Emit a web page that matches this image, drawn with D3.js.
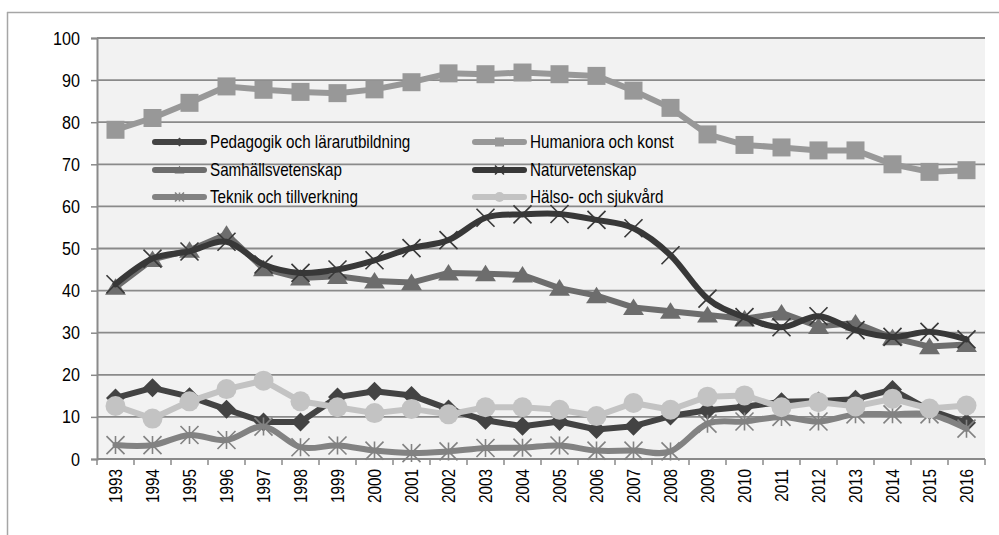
<!DOCTYPE html>
<html>
<head>
<meta charset="utf-8">
<script src="https://cdn.jsdelivr.net/npm/d3@7"></script>
<style>
  body { margin: 0; background: #ffffff; }
  svg text { font-family: "Liberation Sans", Arial, sans-serif; fill: #000; }
</style>
</head>
<body>
<script>
var years = ["1993","1994","1995","1996","1997","1998","1999","2000","2001","2002","2003","2004",
             "2005","2006","2007","2008","2009","2010","2011","2012","2013","2014","2015","2016"];
var yTicks = [0, 10, 20, 30, 40, 50, 60, 70, 80, 90, 100];

var pedagogik = [14.5, 16.9, 14.8, 11.8, 8.8, 8.8, 14.7, 16.1, 15.1, 11.9, 9.2, 7.8, 8.9, 7.0, 7.8, 10.2, 11.6, 12.4, 13.6, 13.8, 14.2, 16.5, 11.6, 8.6];
var humaniora = [78.2, 81.0, 84.6, 88.5, 87.7, 87.2, 86.9, 87.8, 89.5, 91.6, 91.4, 91.8, 91.4, 91.0, 87.5, 83.4, 77.1, 74.6, 74.0, 73.3, 73.3, 70.0, 68.2, 68.6];
var samhalls = [40.8, 47.4, 49.6, 53.4, 45.2, 43.0, 43.4, 42.3, 41.9, 44.2, 44.0, 43.7, 40.6, 38.8, 36.0, 35.1, 34.2, 33.3, 34.7, 31.5, 32.3, 28.8, 26.7, 27.2];
var naturvet = [41.5, 47.6, 49.3, 51.6, 46.2, 44.2, 45.0, 47.2, 50.1, 52.0, 57.3, 58.1, 58.2, 56.8, 54.8, 48.4, 38.1, 33.7, 31.3, 33.9, 30.6, 29.0, 30.2, 28.4];
var teknik = [3.3, 3.3, 5.7, 4.5, 7.7, 2.8, 3.2, 2.0, 1.4, 1.8, 2.6, 2.7, 3.2, 2.0, 2.0, 1.8, 8.4, 8.9, 10.0, 8.9, 10.6, 10.6, 10.6, 7.2];
var halso = [12.6, 9.6, 13.7, 16.6, 18.6, 13.7, 12.3, 10.9, 11.9, 10.6, 12.3, 12.3, 11.7, 10.2, 13.3, 11.7, 14.8, 15.1, 12.3, 13.5, 12.5, 14.3, 12.0, 12.7];

var seriesNames = ["Pedagogik och lärarutbildning", "Humaniora och konst", "Samhällsvetenskap",
                   "Naturvetenskap", "Teknik och tillverkning", "Hälso- och sjukvård"];

var serier = [
    {name: seriesNames[0], values: pedagogik, color: "#434343", marker: "diamond", smooth: false},
    {name: seriesNames[1], values: humaniora, color: "#989898", marker: "square", smooth: false},
    {name: seriesNames[2], values: samhalls, color: "#6d6d6d", marker: "triangle", smooth: false},
    {name: seriesNames[3], values: naturvet, color: "#383838", marker: "x", smooth: true},
    {name: seriesNames[4], values: teknik, color: "#828282", marker: "star", smooth: true},
    {name: seriesNames[5], values: halso, color: "#c3c3c3", marker: "circle", smooth: false}
];

var width = 999, height = 535;
var plot = {left: 97, right: 985, top: 38, bottom: 459};
var narrow = 0.85; // ingen Arial Narrow installerad, trycker ihop texten i stället

var svg = d3.select("body").append("svg")
    .attr("width", width)
    .attr("height", height);

// yttre ram (bara topp och vänster syns)
svg.append("line").attr("x1", 7).attr("x2", width).attr("y1", 12.5).attr("y2", 12.5)
    .attr("stroke", "#a6a6a6").attr("stroke-width", 1.5);
svg.append("line").attr("x1", 7.5).attr("x2", 7.5).attr("y1", 12).attr("y2", height)
    .attr("stroke", "#a6a6a6").attr("stroke-width", 1.5);

var x = d3.scaleBand().domain(years).range([plot.left, plot.right]);
var y = d3.scaleLinear().domain([0, 100]).range([plot.bottom, plot.top]);

svg.append("rect")
    .attr("x", plot.left).attr("y", plot.top)
    .attr("width", plot.right - plot.left).attr("height", plot.bottom - plot.top)
    .attr("fill", "#f2f2f2");

// rutnät
svg.append("g").selectAll("line")
    .data(yTicks.filter(function (d) { return d > 0; }))
    .enter().append("line")
    .attr("x1", plot.left).attr("x2", plot.right)
    .attr("y1", function (d) { return y(d); })
    .attr("y2", function (d) { return y(d); })
    .attr("stroke", "#8a8a8a").attr("stroke-width", 1.8);

// y-axel
var yAxis = svg.append("g")
    .attr("transform", "translate(" + plot.left + ",0)")
    .call(d3.axisLeft(y).tickValues(yTicks).tickSize(6).tickPadding(10));
yAxis.select(".domain").attr("stroke", "#8a8a8a").attr("stroke-width", 2);
yAxis.selectAll(".tick line").attr("stroke", "#8a8a8a").attr("stroke-width", 1.5);
yAxis.selectAll(".tick text")
    .attr("x", -17 / narrow)
    .attr("transform", "scale(" + narrow + ",1)")
    .attr("font-size", "19px").attr("fill", "#000")
    .style("font-family", "'Liberation Sans', Arial, sans-serif");

// x-axel med streck mellan kategorierna
var xg = svg.append("g");
xg.append("line")
    .attr("x1", plot.left).attr("x2", plot.right)
    .attr("y1", plot.bottom).attr("y2", plot.bottom)
    .attr("stroke", "#8a8a8a").attr("stroke-width", 2);
xg.selectAll(".xtick")
    .data(years.concat(["end"]))
    .enter().append("line")
    .attr("class", "xtick")
    .attr("x1", function (d, i) { return plot.left + i * x.bandwidth(); })
    .attr("x2", function (d, i) { return plot.left + i * x.bandwidth(); })
    .attr("y1", plot.bottom).attr("y2", plot.bottom + 6)
    .attr("stroke", "#8a8a8a").attr("stroke-width", 1.5);
xg.selectAll(".xlabel")
    .data(years)
    .enter().append("text")
    .attr("class", "xlabel")
    .attr("transform", function (d) {
        return "translate(" + (x(d) + x.bandwidth() / 2 + 6.5) + "," + (plot.bottom + 10) + ") rotate(-90) scale(0.85,1)";
    })
    .attr("text-anchor", "end")
    .attr("font-size", "18px")
    .text(function (d) { return d; });

function markerPath(type, s) {
    var h = s / 2;
    if (type === "diamond") return "M0," + (-h) + "L" + h + ",0L0," + h + "L" + (-h) + ",0Z";
    if (type === "square") return "M" + (-h) + "," + (-h) + "h" + s + "v" + s + "h" + (-s) + "Z";
    if (type === "triangle") return "M0," + (-h * 0.95) + "L" + (h * 1.1) + "," + (h * 0.8) + "L" + (-h * 1.1) + "," + (h * 0.8) + "Z";
    if (type === "x") return "M" + (-h) + "," + (-h) + "L" + h + "," + h + "M" + (-h) + "," + h + "L" + h + "," + (-h);
    if (type === "star") return "M" + (-h) + "," + (-h) + "L" + h + "," + h + "M" + (-h) + "," + h + "L" + h + "," + (-h) + "M0," + (-h) + "L0," + h;
    return "";
}

function drawMarker(g, s, cx, cy, size) {
    if (s.marker === "circle") {
        g.append("circle").attr("cx", cx).attr("cy", cy).attr("r", size / 2)
            .attr("fill", s.color);
    } else if (s.marker === "x" || s.marker === "star") {
        g.append("path").attr("d", markerPath(s.marker, size))
            .attr("transform", "translate(" + cx + "," + cy + ")")
            .attr("fill", "none").attr("stroke", s.color).attr("stroke-width", 1.6);
    } else {
        g.append("path").attr("d", markerPath(s.marker, size))
            .attr("transform", "translate(" + cx + "," + cy + ")")
            .attr("fill", s.color);
    }
}

var linjer = svg.append("g");
serier.forEach(function (s) {
    var line = d3.line()
        .x(function (d, i) { return x(years[i]) + x.bandwidth() / 2; })
        .y(function (d) { return y(d); })
        .curve(s.smooth ? d3.curveCardinal.tension(0) : d3.curveLinear);
    var g = linjer.append("g");
    g.append("path")
        .attr("d", line(s.values))
        .attr("fill", "none")
        .attr("stroke", s.color)
        .attr("stroke-width", 6)
        .attr("stroke-linejoin", "round")
        .attr("stroke-linecap", "round");
    var size = {diamond: 19, square: 18, triangle: 19, x: 18, star: 18, circle: 20}[s.marker];
    s.values.forEach(function (v, i) {
        drawMarker(g, s, x(years[i]) + x.bandwidth() / 2, y(v), size);
    });
});

// förklaring
var legend = svg.append("g");
var legendCols = [152, 472];
var legendRows = [142, 170, 197];
serier.forEach(function (s, i) {
    var lx = legendCols[i % 2];
    var ly = legendRows[Math.floor(i / 2)];
    var g = legend.append("g");
    g.append("line")
        .attr("x1", lx + 3).attr("x2", lx + 52)
        .attr("y1", ly).attr("y2", ly)
        .attr("stroke", s.color).attr("stroke-width", 6).attr("stroke-linecap", "round");
    var ms = s.marker === "circle" ? 10 : 9;
    drawMarker(g, s, lx + 27.5, ly, ms);
    g.append("text")
        .attr("transform", "translate(" + (lx + 58) + "," + ly + ") scale(0.845,1)")
        .attr("dy", "0.35em")
        .attr("font-size", "18px")
        .text(s.name);
});
</script>
</body>
</html>
